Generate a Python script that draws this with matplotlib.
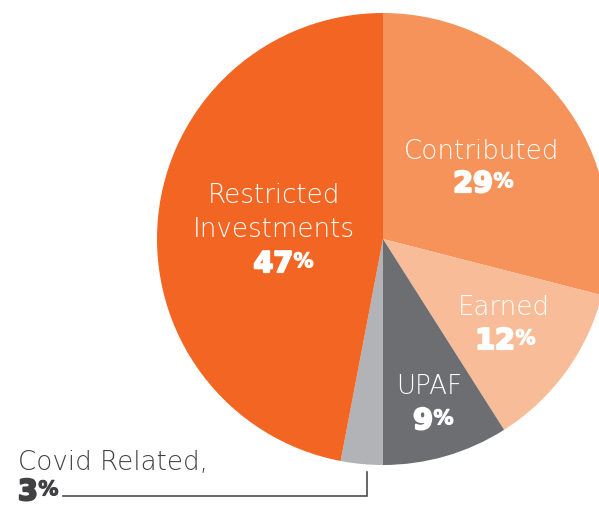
import matplotlib
matplotlib.use("Agg")
import matplotlib.pyplot as plt
import matplotlib.patheffects as pe

labels = ["Contributed", "Earned", "UPAF", "Covid Related", "Restricted Investments"]
values = [29, 12, 9, 3, 47]
colors = ["#F5935A", "#F9BC98", "#6D6E71", "#B1B3B6", "#F26522"]

W, H = 599, 506
fig = plt.figure(figsize=(W / 100, H / 100), dpi=100)
ax = fig.add_axes([0, 0, 1, 1])
cx, cy, r = 383, H - 240, 226
ax.pie(values, colors=colors, startangle=90, counterclock=False,
       center=(cx, cy), radius=r, wedgeprops=dict(linewidth=0))
ax.set_xlim(0, W)
ax.set_ylim(0, H)
ax.set_aspect("equal")
ax.axis("off")

NAME_FONT = "DejaVu Sans"
NUM_FONT = "DejaVu Sans"
NAME_FS = 18.8
NUM_FS = 20.5
PCT_FS = 14.5
LIGHT = 200


def number(xr, base, pct, color, ha="right"):
    t = ax.text(xr, H - base, str(pct), color=color, fontsize=NUM_FS,
                family=NUM_FONT, weight="bold", ha=ha, va="baseline",
                path_effects=[pe.withStroke(linewidth=1.6, foreground=color)])
    ax.annotate("%", xy=(1, 1), xycoords=t, xytext=(0.3, -1.6),
                textcoords="offset points", color=color, fontsize=PCT_FS,
                family=NUM_FONT, weight="bold", ha="left", va="top",
                path_effects=[pe.withStroke(linewidth=0.8, foreground=color)])


def label(x, bases, name_lines, num_base, num_right, pct, color="white"):
    for b, line in zip(bases, name_lines):
        ax.text(x, H - b, line, color=color, fontsize=NAME_FS,
                family=NAME_FONT, weight=LIGHT, ha="center", va="baseline")
    number(num_right, num_base, pct, color)


label(274, [203, 237], ["Restricted", "Investments"], 273, 293, values[4])
label(481.5, [159], ["Contributed"], 193, 493, values[0])
label(504, [315], ["Earned"], 350, 515, values[1])
label(429.5, [394], ["UPAF"], 430, 433, values[2])

dark = "#414143"
ax.text(18, H - 470, "Covid Related,", color=dark, fontsize=NAME_FS, family=NAME_FONT,
        weight=LIGHT, ha="left", va="baseline")
number(18, 501, values[3], dark, ha="left")
ax.plot([63, 367, 367], [H - 497, H - 497, H - 473], color="#4D4D4F", lw=1.2,
        solid_joinstyle="miter")

fig.savefig("out.png", dpi=100)
